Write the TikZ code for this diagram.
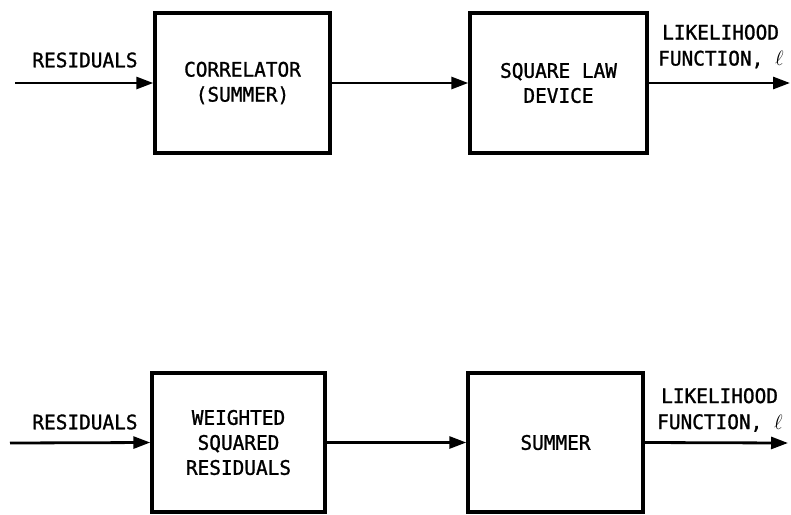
\documentclass[tikz,border=0pt]{standalone}
\usepackage{fontspec}
\newfontfamily\diagfont[FakeStretch=0.97,FakeBold=1.2]{DejaVu Sans Mono}
\usetikzlibrary{arrows.meta}
\begin{document}
\begin{tikzpicture}[x=1pt,y=-1pt,
  blk/.style={draw,line width=3.4pt,rectangle,align=center,inner sep=0pt,
    font=\diagfont\fontsize{20}{25}\selectfont},
  lbl/.style={inner sep=0pt,align=left,font=\diagfont\fontsize{20}{26}\selectfont},
  flow/.style={line width=2.8pt,-{Triangle[length=17pt,width=12pt]}}]
\useasboundingbox (0,0) rectangle (791,514);
% top row
\node[blk,minimum width=175pt,minimum height=140pt] (c1) at (242.5,83) {CORRELATOR\\(SUMMER)};
\node[blk,minimum width=177pt,minimum height=140pt] (s1) at (558.5,83) {SQUARE LAW\\DEVICE};
\coordinate (in1) at (15,83);
\coordinate (out1) at (790,83);
\draw[flow] (in1) -- (c1.west);
\draw[flow] (c1.east) -- (s1.west);
\draw[flow] (s1.east) -- (out1);
\node[lbl] (r1) at (85,60) {RESIDUALS};
\node[lbl,anchor=west] (l1) at (658,46.5) {\hspace*{4pt}LIKELIHOOD\\FUNCTION, $\ell$};
% bottom row
\node[blk,minimum width=173pt,minimum height=139pt] (w2) at (238.5,442.5) {WEIGHTED\\SQUARED\\RESIDUALS};
\node[blk,minimum width=175pt,minimum height=139pt] (s2) at (555.5,442.5) {SUMMER};
\coordinate (in2) at (10,443);
\coordinate (out2) at (788,443);
\draw[flow] (in2) -- (w2.west);
\draw[flow] (w2.east) -- (s2.west);
\draw[flow] (s2.east) -- (out2);
\node[lbl] (r2) at (85,422) {RESIDUALS};
\node[lbl,anchor=west] (l2) at (657,410) {\hspace*{4pt}LIKELIHOOD\\FUNCTION, $\ell$};
\end{tikzpicture}
\end{document}
